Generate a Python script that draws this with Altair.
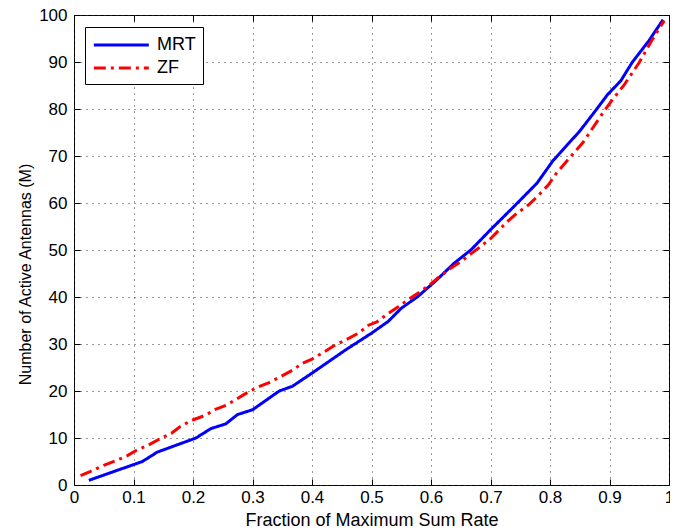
import altair as alt
import pandas as pd

mrt_x = [0.025, 0.115, 0.14, 0.205, 0.23, 0.255, 0.275, 0.3, 0.345, 0.367, 0.4, 0.456, 0.5,
         0.528, 0.55, 0.578, 0.611, 0.639, 0.667, 0.7, 0.739, 0.778, 0.805, 0.85, 0.878,
         0.897, 0.919, 0.938, 0.966, 0.99]
mrt_y = [1, 5, 7, 10, 12, 13, 15, 16, 20, 21, 23.8, 28.7, 32.3, 34.8, 37.6, 40.1, 43.8, 47.2,
         50, 54.3, 59.2, 64.2, 69, 75.3, 79.9, 83.1, 86, 89.9, 94.5, 99]

zf_x = [0.011, 0.028, 0.05, 0.069, 0.089, 0.105, 0.125, 0.144, 0.164, 0.178, 0.197, 0.222,
        0.236, 0.256, 0.272, 0.289, 0.308, 0.328, 0.345, 0.367, 0.384, 0.4, 0.423, 0.439,
        0.456, 0.478, 0.495, 0.509, 0.528, 0.545, 0.561, 0.578, 0.598, 0.611, 0.633, 0.65,
        0.664, 0.683, 0.7, 0.714, 0.728, 0.744, 0.764, 0.778, 0.797, 0.81, 0.828, 0.855,
        0.889, 0.905, 0.925, 0.95, 0.972, 0.992]
zf_y = [2, 2.9, 4.2, 5.1, 6.2, 7.4, 8.5, 9.8, 11, 12.4, 13.7, 14.9, 16, 17, 18.2, 19.5, 20.8,
        21.8, 22.9, 24.4, 25.9, 26.8, 28.5, 29.8, 30.8, 32.3, 34, 34.7, 36.5, 37.9, 39.4,
        40.8, 42.6, 44, 46.1, 47.5, 48.9, 50.7, 52.4, 54.2, 56, 57.8, 59.6, 61.3, 63.8, 66.2,
        68.9, 72.8, 79.2, 82, 85.2, 89.9, 94.8, 98.8]

series_names = ["MRT", "ZF"]
series_colors = ["#0000ff", "#ff0000"]
series_dash = [[1, 0], [12, 5, 3, 5]]

x_ticks = [round(i * 0.1, 1) for i in range(11)]
y_ticks = list(range(0, 101, 10))

df = pd.concat([
    pd.DataFrame({"x": mrt_x, "y": mrt_y, "s": "MRT", "o": range(len(mrt_x))}),
    pd.DataFrame({"x": zf_x, "y": zf_y, "s": "ZF", "o": range(len(zf_x))}),
])

FONT = "Liberation Sans"

xscale = alt.Scale(domain=[0, 1], nice=False, zero=False)
yscale = alt.Scale(domain=[0, 100], nice=False, zero=False)

lines = alt.Chart(df).mark_line(strokeWidth=3).encode(
    x=alt.X("x:Q", scale=xscale,
            axis=alt.Axis(values=x_ticks, title="Fraction of Maximum Sum Rate",
                          orient="bottom", offset=-6, tickSize=6, domain=False,
                          labelPadding=4, grid=True, gridDash=[1, 5], gridColor="#333333",
                          gridWidth=1, tickColor="black", titlePadding=6, titleFontSize=18,
                          labelFlush=False, format="~g")),
    y=alt.Y("y:Q", scale=yscale,
            axis=alt.Axis(values=y_ticks, title="Number of Active Antennas (M)",
                          orient="left", offset=-6, tickSize=6, domain=False,
                          labelPadding=7, grid=True, gridDash=[1, 5], gridColor="#333333",
                          gridWidth=1, tickColor="black", titleFontSize=16,
                          titleX=-47, titleY=259,
                          labelFlush=False)),
    color=alt.Color("s:N", scale=alt.Scale(domain=series_names, range=series_colors),
                    legend=alt.Legend(title=None)),
    strokeDash=alt.StrokeDash("s:N", scale=alt.Scale(domain=series_names, range=series_dash),
                              legend=alt.Legend(title=None)),
    order="o:Q",
)

frame_ticks = alt.Chart(df).mark_point(opacity=0).encode(
    x=alt.X("x:Q", scale=xscale,
            axis=alt.Axis(values=x_ticks, title=None, orient="top", offset=-6, tickSize=6,
                          domain=False, labels=False, grid=False, tickColor="black")),
    y=alt.Y("y:Q", scale=yscale,
            axis=alt.Axis(values=y_ticks, title=None, orient="right", offset=-6, tickSize=6,
                          domain=False, labels=False, grid=False, tickColor="black")),
)

chart = alt.layer(lines, frame_ticks).resolve_axis(
    x="independent", y="independent"
).properties(
    width=595, height=470,
    autosize=alt.AutoSizeParams(type="none"),
    padding={"left": 66, "top": 7, "right": 1, "bottom": 48},
).configure_view(
    stroke="black", strokeWidth=1
).configure_axis(
    labelFont=FONT, titleFont=FONT, labelFontSize=17, titleFontSize=16,
    labelColor="black", titleColor="black", titleFontWeight="normal",
).configure_legend(
    orient="none", legendX=11, legendY=12, strokeColor="black", fillColor="white",
    padding=7, symbolType="M-1,0H5", symbolStrokeWidth=3, symbolSize=336,
    symbolFillColor="transparent",
    labelFont=FONT, labelFontSize=18, labelColor="black", rowPadding=3, labelOffset=43,
    cornerRadius=0,
)

chart.save("out.html", embed_options={"renderer": "svg", "actions": False})
